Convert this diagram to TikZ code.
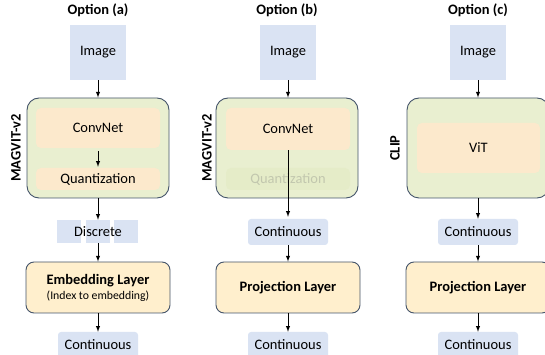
\documentclass[tikz,border=0pt]{standalone}
\usepackage{fontspec}
\setmainfont{Carlito}
\usepackage{tikz}
\usetikzlibrary{positioning}

\definecolor{blueFill}{HTML}{DAE3F3}
\definecolor{greenFill}{HTML}{E9EFD0}
\definecolor{peachFill}{HTML}{FCE9CC}
\definecolor{layerFill}{HTML}{FFEFCD}
\definecolor{edgeCol}{HTML}{44546A}
\definecolor{fadeFill}{HTML}{E5ECC8}
\definecolor{fadeText}{HTML}{C2C7AE}

\begin{document}
\begin{tikzpicture}[>=latex,line join=bevel,
  every node/.style={inner sep=0pt,font=\fontsize{14.5}{16}\selectfont},
  datbox/.style={fill=blueFill,minimum width=56bp,minimum height=55bp},
  contbox/.style={fill=blueFill,rounded corners=3bp,minimum width=80bp,minimum height=26bp},
  discbox/.style={fill=blueFill,minimum width=24bp,minimum height=23bp},
  encbox/.style={draw=edgeCol,line width=0.9bp,fill=greenFill,rounded corners=12bp,minimum width=142bp,minimum height=100bp},
  netbox/.style={fill=peachFill,rounded corners=5bp,minimum width=124bp},
  layerbox/.style={draw=edgeCol,line width=0.9bp,fill=layerFill,rounded corners=8bp,minimum width=144bp,minimum height=51bp},
  sidelabel/.style={rotate=90,font=\fontsize{14.5}{16}\selectfont\bfseries},
  optlabel/.style={font=\fontsize{14.5}{16}\selectfont\bfseries},
  flow/.style={black,->,line width=1bp}]
\useasboundingbox (0bp,0bp) rectangle (545bp,355bp);
%%
\node (title_a) at (98bp,345bp) [optlabel] {Option (a)};
  \node (title_b) at (287bp,345bp) [optlabel] {Option (b)};
  \node (title_c) at (478bp,345bp) [optlabel] {Option (c)};
  \node (image_a) at (98bp,302.5bp) [datbox] {Image};
  \node (image_b) at (288bp,302.5bp) [datbox] {Image};
  \node (image_c) at (478bp,302.5bp) [datbox] {Image};
%
  \node (enc_a) at (98bp,207bp) [encbox] {};
  \node (enc_b) at (287bp,207bp) [encbox] {};
  \node (enc_c) at (478bp,207bp) [encbox] {};
  \node (side_a) at (16bp,207bp) [sidelabel] {MAGVIT-v2};
  \node (side_b) at (207bp,207bp) [sidelabel] {MAGVIT-v2};
  \node (side_c) at (395bp,207bp) [sidelabel] {CLIP};
  \node (conv_a) at (98bp,227bp) [netbox,minimum height=40bp] {ConvNet};
  \node (quant_a) at (98bp,176bp) [netbox,minimum height=22bp] {Quantization};
  \node (conv_b) at (288bp,226bp) [netbox,minimum height=42bp] {ConvNet};
  \node (quant_b) at (288bp,176bp) [netbox,minimum height=22bp,fill=fadeFill,text=fadeText] {Quantization};
  \node (vit_c) at (478.5bp,207bp) [netbox,minimum width=123bp,minimum height=50bp] {ViT};
%
  \node (disc_l) at (69bp,123.5bp) [discbox] {};
  \node (disc_m) at (98bp,123.5bp) [discbox] {};
  \node (disc_r) at (126bp,123.5bp) [discbox] {};
  \node (disc_a) at (98bp,123.5bp) {Discrete};
  \node (cont_b) at (288bp,123bp) [contbox] {Continuous};
  \node (cont_c) at (478bp,123bp) [contbox] {Continuous};
%
  \node (embed_a) at (98bp,67.5bp) [layerbox,align=center] {\textbf{Embedding Layer}\\[-1bp]{\fontsize{11.8}{13}\selectfont (Index to embedding)}};
  \node (proj_b) at (288bp,67.5bp) [layerbox] {\textbf{Projection Layer}};
  \node (proj_c) at (478bp,67.5bp) [layerbox] {\textbf{Projection Layer}};
  \node (out_a) at (98bp,10bp) [contbox] {Continuous};
  \node (out_b) at (288bp,10bp) [contbox] {Continuous};
  \node (out_c) at (478bp,10bp) [contbox] {Continuous};
%
  \draw [flow] (image_a) -- (image_a |- enc_a.north);
  \draw [flow] (image_b) -- (image_b |- enc_b.north);
  \draw [flow] (image_c) -- (image_c |- enc_c.north);
  \draw [flow] ([yshift=-3bp]conv_a.south) -- ([yshift=1bp]quant_a.north);
  \draw [flow] (enc_a) -- (disc_m.north);
  \draw [flow] (disc_m) -- (embed_a);
  \draw [flow] (embed_a) -- (out_a);
  \draw [flow] (conv_b.south) -- ([yshift=2bp]cont_b.north);
  \draw [flow] (cont_b) -- (proj_b);
  \draw [flow] (proj_b) -- (out_b);
  \draw [flow] (enc_c) -- (cont_c);
  \draw [flow] (cont_c) -- (proj_c);
  \draw [flow] (proj_c) -- (out_c);
%
\end{tikzpicture}
\end{document}
